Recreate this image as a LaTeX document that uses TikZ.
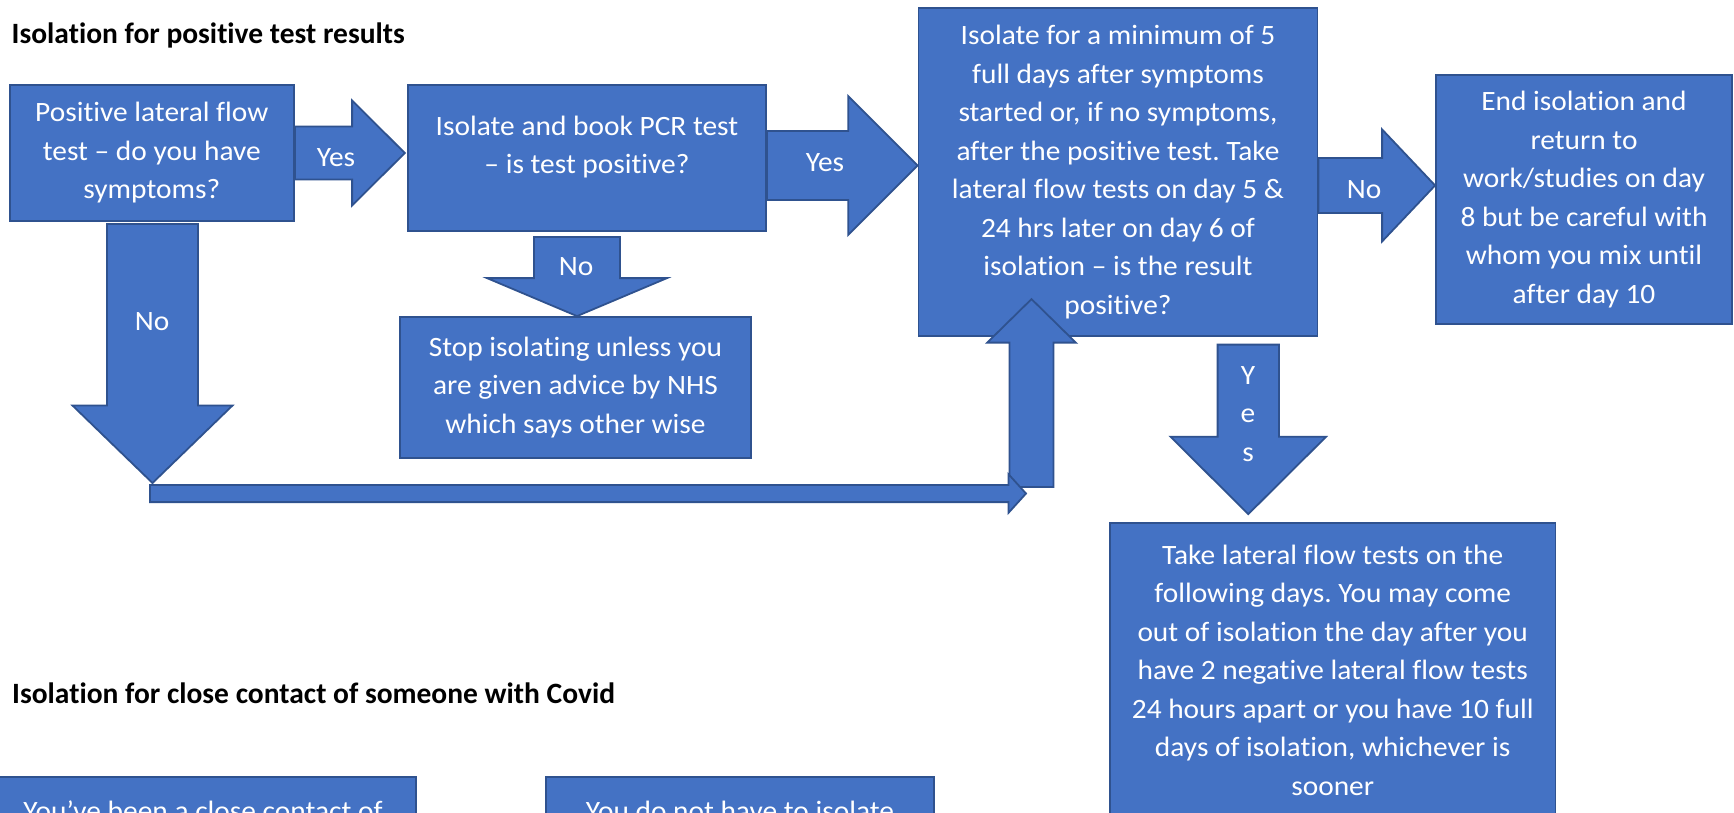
\documentclass[tikz,border=0pt]{standalone}
\usepackage{fontspec}
\setmainfont{Carlito}[FakeStretch=1.05, Ligatures=NoCommon]
\newfontfamily\headfont{Carlito}[Ligatures=NoCommon]
\usetikzlibrary{calc}
\definecolor{boxblue}{HTML}{4472C4}
\definecolor{edgeblue}{HTML}{2F528F}
\tikzset{
  box/.style={draw=edgeblue, fill=boxblue, line width=1.8pt, rectangle, inner sep=0pt,
    text=white, align=center, font=\fontsize{28}{38.5}\selectfont},
  barrow/.style={draw=edgeblue, fill=boxblue, line width=1.8pt, line join=miter},
  lbltxt/.style={text=white, align=center, inner sep=0pt, font=\fontsize{28}{38.5}\selectfont},
  albl/.style={lbltxt, anchor=base},
  heading/.style={font=\headfont\fontsize{29.5}{34}\selectfont\bfseries, anchor=base west, inner sep=0pt},
}
\newcommand\BlockRight[5]{\path[barrow] let \p1=(#1), \p2=(#2) in
  (\x1,\y1+#3) -- (\x2-#5,\y1+#3) -- (\x2-#5,\y1+#4) -- (\x2,\y1) --
  (\x2-#5,\y1-#4) -- (\x2-#5,\y1-#3) -- (\x1,\y1-#3) -- cycle;}
\newcommand\BlockDown[5]{\path[barrow] let \p1=(#1), \p2=(#2) in
  (\x1-#3,\y1) -- (\x1-#3,\y2+#5) -- (\x1-#4,\y2+#5) -- (\x1,\y2) --
  (\x1+#4,\y2+#5) -- (\x1+#3,\y2+#5) -- (\x1+#3,\y1) -- cycle;}
\newcommand\BlockUp[5]{\path[barrow] let \p1=(#1), \p2=(#2) in
  (\x1-#3,\y1) -- (\x1-#3,\y2-#5) -- (\x1-#4,\y2-#5) -- (\x1,\y2) --
  (\x1+#4,\y2-#5) -- (\x1+#3,\y2-#5) -- (\x1+#3,\y1) -- cycle;}
\frenchspacing
\begin{document}
\begin{tikzpicture}[x=1pt,y=-1pt]
\useasboundingbox (0,0) rectangle (1734,812);
\clip (0,0) rectangle (1734,812);
\fill[white] (0,0) rectangle (1734,812);

% headings
\node[heading] (t1) at (11.5,43.3) {Isolation for positive test results};
\node[heading] (t2) at (12,703) {Isolation for close contact of someone with Covid};

% boxes
\node[box, minimum width=284.4pt, minimum height=136pt] (b1) at (151.8,153)
  {Positive lateral flow\\test – do you have\\symptoms?};
\node[box, minimum width=358pt, minimum height=146pt] (b2) at (587,158) {};
\node[lbltxt] (b2text) at (587,147) {Isolate and book PCR test\\– is test positive?};
\node[box, minimum width=398.9pt, minimum height=327.7pt] (b3) at (1118,171.85)
  {Isolate for a minimum of 5\\full days after symptoms\\started or, if no symptoms,\\after the positive test. Take\\lateral flow tests on day 5 \&\\24 hrs later on day 6 of\\isolation – is the result\\positive?};
\node[box, minimum width=296pt, minimum height=249pt] (b4) at (1584,199.5)
  {End isolation and\\return to\\work/studies on day\\8 but be careful with\\whom you mix until\\after day 10};
\node[box, minimum width=351pt, minimum height=141pt] (b5) at (575.5,387.5)
  {Stop isolating unless you\\are given advice by NHS\\which says other wise};
\node[box, minimum width=445.4pt, minimum height=294.6pt] (b6) at (1332.7,670)
  {Take lateral flow tests on the\\following days. You may come\\out of isolation the day after you\\have 2 negative lateral flow tests\\24 hours apart or you have 10 full\\days of isolation, whichever is\\sooner};
\node[box, minimum width=426pt, minimum height=68pt] (b7) at (203,811)
  {You’ve been a close contact of};
\node[box, minimum width=388pt, minimum height=68pt] (b8) at (740,811)
  {You do not have to isolate};

% connector end points
\coordinate (a1s) at (b1.east);
\coordinate (a1t) at ($(b2.west |- b1.east)+(-2.3,0)$);
\coordinate (a2s) at ($(b2.east)+(0,7.5)$);
\coordinate (a2t) at (b3.west |- a2s);
\coordinate (a3s) at ($(b3.east)+(0,13.6)$);
\coordinate (a3t) at (b4.west |- a3s);
\coordinate (a4s) at ($(b1.south)+(0.7,2)$);
\coordinate (turn) at (152.5,483);
\coordinate (a5s) at ($(b2.south)+(-10,5)$);
\coordinate (a5t) at (a5s |- b5.north);
\coordinate (a6s) at ($(b3.south)+(130.3,8)$);
\coordinate (a6t) at ($(a6s |- b6.north)+(0,-7.7)$);
\coordinate (a8s) at (150,493.5);
\coordinate (a8t) at (1026,493.5);
\coordinate (a7s) at (1031.5,487);
\coordinate (a7t) at ($(a7s |- b3.south)+(0,-37.5)$);

% block arrows
\BlockRight{a1s}{a1t}{26.5pt}{52.5pt}{52.7pt}
\BlockRight{a2s}{a2t}{34.5pt}{69.5pt}{69.5pt}
\BlockRight{a3s}{a3t}{27.5pt}{56pt}{53pt}
\BlockDown{a4s}{turn}{45.5pt}{80pt}{77.5pt}
\BlockDown{a5s}{a5t}{43pt}{90pt}{38pt}
\BlockDown{a6s}{a6t}{30.7pt}{77.7pt}{77.3pt}
\BlockUp{a7s}{a7t}{22pt}{44.3pt}{43.5pt}
\BlockRight{a8s}{a8t}{8.6pt}{19.3pt}{17.5pt}

% arrow labels
\node[albl] (l1) at (336,166) {Yes};
\node[albl] (l2) at (825,171.5) {Yes};
\node[albl] (l3) at (1364,198) {No};
\node[albl] (l4) at (152,330) {No};
\node[albl] (l5) at (576,275) {No};
\node[lbltxt] (l6) at (1248,414) {Y\\e\\s};
\end{tikzpicture}
\end{document}
